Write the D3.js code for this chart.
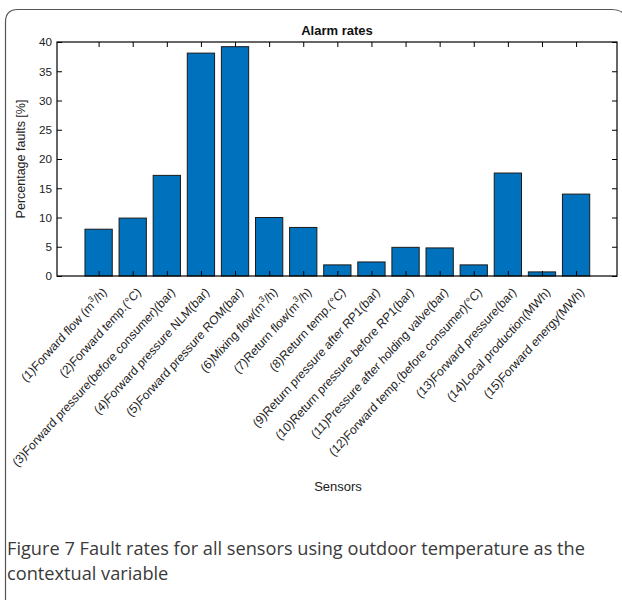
<!DOCTYPE html>
<html>
<head>
<meta charset="utf-8">
<script src="https://cdn.jsdelivr.net/npm/d3@7"></script>
<style>
  body { margin: 0; background: #fff; }
  svg { display: block; }
</style>
</head>
<body>
<svg id="chart" width="622" height="600"></svg>
<script>
// sensor names, split so the units can carry a superscript
const sensorNames = [
  ["(1)Forward flow (m", "3", "/h)"],
  ["(2)Forward temp.(°C)"],
  ["(3)Forward pressure(before consumer)(bar)"],
  ["(4)Forward pressure NLM(bar)"],
  ["(5)Forward pressure ROM(bar)"],
  ["(6)Mixing flow(m", "3", "/h)"],
  ["(7)Return flow(m", "3", "/h)"],
  ["(8)Return temp.(°C)"],
  ["(9)Return pressure after RP1(bar)"],
  ["(10)Return pressure before RP1(bar)"],
  ["(11)Pressure after holding valve(bar)"],
  ["(12)Forward temp.(before consumer)(°C)"],
  ["(13)Forward pressure(bar)"],
  ["(14)Local production(MWh)"],
  ["(15)Forward energy(MWh)"]
];
const faultRates = [8.0, 9.9, 17.2, 38.1, 39.2, 10.0, 8.3, 1.9, 2.4, 4.9, 4.8, 1.9, 17.6, 0.7, 14.0];
const yTicks = [0, 5, 10, 15, 20, 25, 30, 35, 40];

const svg = d3.select("#chart");
const F = "'Liberation Sans', Arial, sans-serif";
const SY = 1.1; // tick labels look a little steeper than 45deg

// outer card frame
svg.append("path")
  .attr("d", "M5.5,610 L5.5,22 Q5.5,9.5 18,9.5 L612,9.5 Q620,9.5 624,14")
  .attr("fill", "none").attr("stroke", "#555").attr("stroke-width", 1.2);

const L = 57, R = 617, T = 42, B = 276;
const x = d3.scaleLinear().domain([-0.22, 16.2]).range([L, R]);
const y = d3.scaleLinear().domain([0, 40]).range([B, T]);
const bw = (x(1) - x(0)) * 0.8;

const g = svg.append("g");

g.selectAll("rect.bar").data(faultRates).enter().append("rect")
  .attr("class", "bar")
  .attr("x", (d, i) => x(i + 1) - bw / 2)
  .attr("y", d => y(d))
  .attr("width", bw)
  .attr("height", d => B - y(d))
  .attr("fill", "#0072BD")
  .attr("stroke", "#1a1a1a")
  .attr("stroke-width", 1);

// axes box with inward ticks on all sides
const idx = d3.range(1, 16);
const tk = 5;
const axB = g.append("g").attr("transform", `translate(0,${B})`)
  .call(d3.axisBottom(x).tickValues(idx).tickSizeInner(-tk).tickSizeOuter(0).tickFormat(""));
const axT = g.append("g").attr("transform", `translate(0,${T})`)
  .call(d3.axisTop(x).tickValues(idx).tickSizeInner(-tk).tickSizeOuter(0).tickFormat(""));
const axL = g.append("g").attr("transform", `translate(${L},0)`)
  .call(d3.axisLeft(y).tickValues(yTicks).tickSizeInner(-tk).tickSizeOuter(0).tickPadding(5));
const axR = g.append("g").attr("transform", `translate(${R},0)`)
  .call(d3.axisRight(y).tickValues(yTicks).tickSizeInner(-tk).tickSizeOuter(0).tickFormat(""));
[axB, axT, axL, axR].forEach(a => {
  a.selectAll("path.domain").remove();
  a.selectAll("line").attr("stroke", "#000").attr("stroke-width", 1);
});
axL.selectAll("text").attr("font-family", F).attr("font-size", 11.7).attr("fill", "#222");

g.append("rect").attr("x", L).attr("y", T).attr("width", R - L).attr("height", B - T)
  .attr("fill", "none").attr("stroke", "#000").attr("stroke-width", 1.2);

// rotated sensor labels
const lab = g.selectAll("text.xl").data(sensorNames).enter().append("text")
  .attr("class", "xl")
  .attr("font-family", F).attr("font-size", 11.6).attr("fill", "#222")
  .attr("text-anchor", "end")
  .attr("transform", (d, i) => `translate(${x(i + 1) + 9},${B + 17}) scale(1,${SY}) rotate(-45)`);
lab.each(function(parts) {
  const t = d3.select(this);
  t.append("tspan").text(parts[0]);
  if (parts.length > 1) {
    t.append("tspan").attr("dy", -5).attr("font-size", 8).text(parts[1]);
    t.append("tspan").attr("dy", 5).text(parts[2]);
  }
});

svg.append("text").attr("x", (L + R) / 2).attr("y", 35)
  .attr("text-anchor", "middle").attr("font-family", F).attr("font-size", 13)
  .attr("font-weight", "bold").attr("fill", "#111").text("Alarm rates");

svg.append("text").attr("transform", `translate(25,${(T + B) / 2}) rotate(-90)`)
  .attr("text-anchor", "middle").attr("font-family", F).attr("font-size", 12.5)
  .attr("fill", "#222").text("Percentage faults [%]");

svg.append("text").attr("x", 338).attr("y", 491)
  .attr("text-anchor", "middle").attr("font-family", F).attr("font-size", 13)
  .attr("fill", "#222").text("Sensors");

// figure caption
const cap = svg.append("text").attr("font-family", "'Open Sans', sans-serif")
  .attr("font-size", 18.2).attr("fill", "#3a3a3a");
cap.append("tspan").attr("x", 7).attr("y", 555)
  .text("Figure 7 Fault rates for all sensors using outdoor temperature as the");
cap.append("tspan").attr("x", 7).attr("y", 580).text("contextual variable");
</script>
</body>
</html>
